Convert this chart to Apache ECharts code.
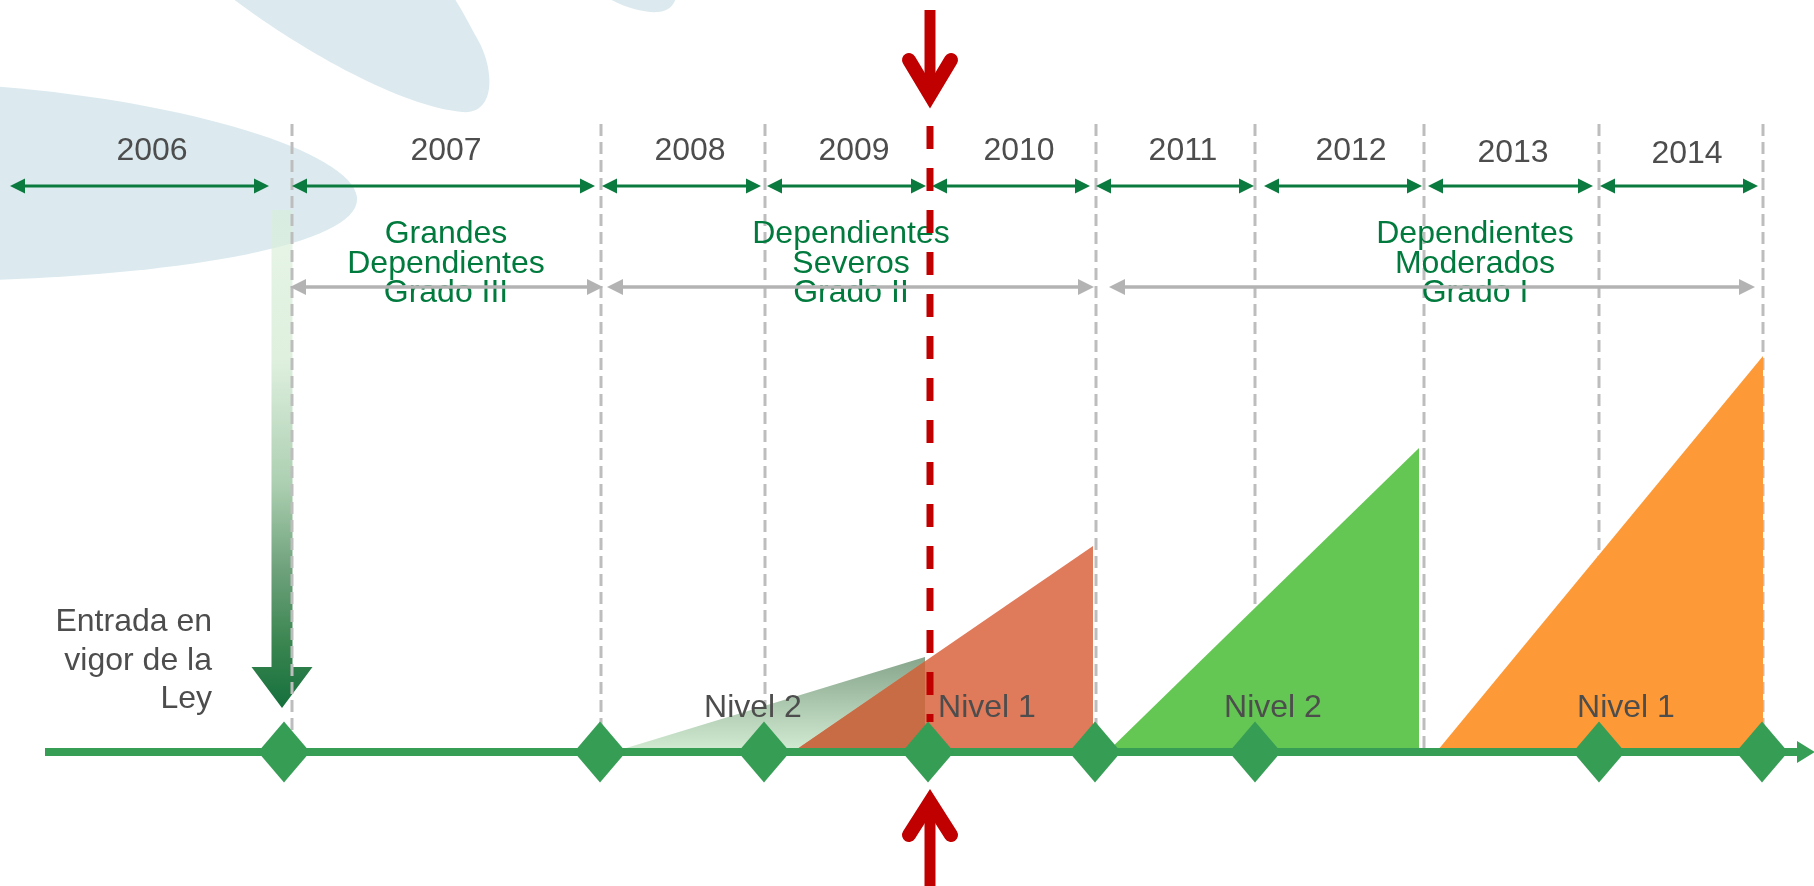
<!DOCTYPE html>
<html><head><meta charset="utf-8">
<script src="https://cdn.jsdelivr.net/npm/echarts@6/dist/echarts.min.js"></script>
<style>html,body{margin:0;padding:0;background:#fff}#main{width:1814px;height:886px}</style>
</head><body><div id="main"></div>
<script>
// ---- diagram data (x: position along the timeline, y: height above the timeline) ----
const yearLabels = ['2006','2007','2008','2009','2010','2011','2012','2013','2014'];
const yearLabelX = [152, 446, 690, 854, 1019, 1183, 1351, 1513, 1687];
const yearLabelLevel = [601, 601, 601, 601, 601, 601, 601, 599, 598];
const yearSpanFrom = [10, 292, 602, 767, 932, 1096, 1264, 1428, 1600];
const yearSpanTo = [269, 595, 761, 926, 1090, 1254, 1422, 1593, 1758];
const yearSpanLevel = 566;

const dividerX = [292, 601, 765, 1096, 1255, 1424, 1599, 1763];
const dividerTop = 628;
const milestoneX = [284, 600, 764, 928, 1095, 1255, 1599, 1762];

const gradeLabels = ['Grandes\nDependientes\nGrado III', 'Dependientes\nSeveros\nGrado II', 'Dependientes\nModerados\nGrado I'];
const gradeLabelX = [446, 851, 1475];
const gradeLabelLevel = 488;
const gradeSpanFrom = [290, 607, 1109];
const gradeSpanTo = [603, 1094, 1755];
const gradeSpanLevel = 465;

const levelLabels = ['Nivel 2', 'Nivel 1', 'Nivel 2', 'Nivel 1'];
const levelFrom = [600, 787, 1103, 1433];
const levelTo = [925, 1093, 1419, 1763];
const levelPeak = [95, 206, 304, 396];
const levelLabelX = [753, 987, 1273, 1626];
const levelLabelLevel = 44;

const entryLabel = 'Entrada en\nvigor de la\nLey';
const entryArrow = [282, 542, 44];      // x, from, to
const entryLabelPos = [212, 91];

const reformX = 930;
const reformDash = [626, 30];
const reformDownArrow = [742, 657, 692]; // shaft top, vertex, wing ends
const reformUpArrow = [-138, -50, -83];

const timeline = [45, 1815];

const backdropShapes = [
  [['M',-10,666],['C',180,652,350,602,357,555],['C',362,507,180,478,-10,472],['Z']],
  [['M',228,757],['C',300,702,400,646,462,640],['C',497,637,494,684,478,712],['C',468,730,460,746,452,757],['Z']],
  [['M',608,754],['C',625,744,645,739,658,740],['C',670,741,674,748,676,754],['Z']]
];

// ---- styles ----
const FONT = '"Liberation Sans", Arial, Helvetica, sans-serif';
const GREY_TEXT = '#4D4D4D';
const GREEN_TEXT = '#007A3D';
const levelFill = [
  {type:'linear', x:0, y:0, x2:0, y2:1, colorStops:[{offset:0,color:'#86a58b'},{offset:1,color:'#d6efd6'}]},
  '#DF7A5B', '#64C653', '#FD9A37'
];
const overlapFill = '#C86C45';

function textEl(p, text, extra) {
  return {type:'text', x:p[0], y:p[1], style:Object.assign({
    text: text, fill: GREY_TEXT, fontSize: 32, fontFamily: FONT, align:'center', verticalAlign:'middle'
  }, extra || {})};
}
function dblArrow(api, x1, x2, y, color, lw, hl, hh) {
  const a = api.coord([x1, y]), b = api.coord([x2, y]);
  return {type:'group', children:[
    {type:'line', shape:{x1:a[0]+hl*0.6, y1:a[1], x2:b[0]-hl*0.6, y2:b[1]}, style:{stroke:color, lineWidth:lw}},
    {type:'polygon', shape:{points:[[a[0],a[1]],[a[0]+hl,a[1]-hh],[a[0]+hl,a[1]+hh]]}, style:{fill:color}},
    {type:'polygon', shape:{points:[[b[0],b[1]],[b[0]-hl,b[1]-hh],[b[0]-hl,b[1]+hh]]}, style:{fill:color}}
  ]};
}

const chart = echarts.init(document.getElementById('main'), null, {renderer:'canvas'});
chart.setOption({
  animation: false,
  backgroundColor: '#ffffff',
  grid: {left:0, right:0, top:0, bottom:0},
  xAxis: {type:'value', min:0, max:1814, show:false},
  yAxis: {type:'value', min:-134, max:752, show:false},
  series: [
    { // background leaves
      type:'custom', z:1, silent:true,
      data: backdropShapes.map((s, i) => [i, 0]),
      renderItem(params, api) {
        const segs = backdropShapes[params.dataIndex];
        let d = '';
        segs.forEach(s => {
          d += s[0];
          for (let k = 1; k < s.length; k += 2) {
            const p = api.coord([s[k], s[k+1]]);
            d += ' ' + p[0].toFixed(1) + ' ' + p[1].toFixed(1);
          }
          d += ' ';
        });
        return {type:'path', shape:{pathData:d}, style:{fill:'#DCEAEF'}};
      }
    },
    { // entry-into-force arrow
      type:'custom', z:2, silent:true,
      data: [entryArrow],
      renderItem(params, api) {
        const x = api.value(0), top = api.coord([x, api.value(1)]), tip = api.coord([x, api.value(2)]);
        const cx = top[0], sw = 10.5, hw = 30.5, hl = 41;
        const pts = [[cx-sw,top[1]],[cx+sw,top[1]],[cx+sw,tip[1]-hl],[cx+hw,tip[1]-hl],[cx,tip[1]],[cx-hw,tip[1]-hl],[cx-sw,tip[1]-hl]];
        return {type:'polygon', shape:{points:pts}, style:{fill:{type:'linear', x:0, y:0, x2:0, y2:1, colorStops:[
          {offset:0, color:'rgba(214,238,214,0.55)'},{offset:0.3, color:'#dff0df'},{offset:0.55, color:'#accfb1'},
          {offset:0.72, color:'#6fa27c'},{offset:0.87, color:'#3a8550'},{offset:1, color:'#15703c'}]}}};
      }
    },
    { // grey dashed year dividers
      type:'custom', z:3, silent:true,
      data: dividerX.map(x => [x, dividerTop]),
      renderItem(params, api) {
        const a = api.coord([api.value(0), api.value(1)]), b = api.coord([api.value(0), 0]);
        return {type:'line', shape:{x1:a[0], y1:a[1], x2:b[0], y2:b[1]}, style:{stroke:'#BDBDBD', lineWidth:3, lineDash:[12,6]}};
      }
    },
    { // level triangles
      type:'custom', z:4, silent:true,
      data: levelFrom.map((s, i) => [s, levelTo[i], levelPeak[i]]),
      renderItem(params, api) {
        const i = params.dataIndex;
        const s = api.value(0), e = api.value(1), p = api.value(2), low = -4;
        const children = [{type:'polygon', shape:{points:[api.coord([s,low]), api.coord([e,p]), api.coord([e,low])]}, style:{fill:levelFill[i]}}];
        if (i > 0 && s < levelTo[i-1]) {
          const cx = levelTo[i-1];
          const hy = low + (cx - s) / (e - s) * (p - low);
          children.push({type:'polygon', shape:{points:[api.coord([s,low]), api.coord([cx,hy]), api.coord([cx,low])]}, style:{fill:overlapFill}});
        }
        return {type:'group', children};
      }
    },
    { // main timeline
      type:'custom', z:5, silent:true,
      data: [timeline],
      renderItem(params, api) {
        const a = api.coord([api.value(0), 0]), b = api.coord([api.value(1), 0]);
        return {type:'group', children:[
          {type:'line', shape:{x1:a[0], y1:a[1], x2:b[0]-16, y2:b[1]}, style:{stroke:'#379E55', lineWidth:8}},
          {type:'polygon', shape:{points:[[b[0],b[1]],[b[0]-18,b[1]-11],[b[0]-18,b[1]+11]]}, style:{fill:'#379E55'}}
        ]};
      }
    },
    { // level labels
      type:'custom', z:6, silent:true,
      data: levelLabelX.map(x => [x, levelLabelLevel]),
      renderItem(params, api) {
        return textEl(api.coord([api.value(0), api.value(1)]), levelLabels[params.dataIndex]);
      }
    },
    { // milestones
      type:'scatter', z:8, silent:true,
      symbol:'diamond', symbolSize:[52,61],
      itemStyle:{color:'#369D55', opacity:1},
      data: milestoneX.map(x => [x, 0])
    },
    { // year spans
      type:'custom', z:9, silent:true,
      data: yearSpanFrom.map((s, i) => [s, yearSpanTo[i], yearSpanLevel]),
      renderItem(params, api) {
        return dblArrow(api, api.value(0), api.value(1), api.value(2), '#0B7A3E', 3.2, 15, 7.5);
      }
    },
    { // year labels
      type:'custom', z:9, silent:true,
      data: yearLabelX.map((x, i) => [x, yearLabelLevel[i]]),
      renderItem(params, api) {
        return textEl(api.coord([api.value(0), api.value(1)]), yearLabels[params.dataIndex]);
      }
    },
    { // grade labels
      type:'custom', z:9, silent:true,
      data: gradeLabelX.map(x => [x, gradeLabelLevel]),
      renderItem(params, api) {
        return textEl(api.coord([api.value(0), api.value(1)]), gradeLabels[params.dataIndex], {fill:GREEN_TEXT, lineHeight:29.5});
      }
    },
    { // grade spans
      type:'custom', z:10, silent:true,
      data: gradeSpanFrom.map((s, i) => [s, gradeSpanTo[i], gradeSpanLevel]),
      renderItem(params, api) {
        return dblArrow(api, api.value(0), api.value(1), api.value(2), '#B3B3B3', 3.5, 16, 8);
      }
    },
    { // entry label
      type:'custom', z:9, silent:true,
      data: [entryLabelPos],
      renderItem(params, api) {
        return textEl(api.coord([api.value(0), api.value(1)]), entryLabel, {align:'right', lineHeight:38.5});
      }
    },
    { // reform marker (red)
      type:'custom', z:11, silent:true,
      data: [[reformX]],
      renderItem(params, api) {
        const x = api.value(0);
        const c = v => api.coord([x, v]);
        const red = '#C00000';
        const dTop = c(reformDash[0]), dBot = c(reformDash[1]);
        const s1 = c(reformDownArrow[0]), v1 = c(reformDownArrow[1]), w1 = c(reformDownArrow[2]);
        const s2 = c(reformUpArrow[0]), v2 = c(reformUpArrow[1]), w2 = c(reformUpArrow[2]);
        const px = dTop[0], wx = 21;
        return {type:'group', children:[
          {type:'line', shape:{x1:px, y1:dTop[1], x2:px, y2:dBot[1]}, style:{stroke:red, lineWidth:7, lineDash:[23,19]}},
          {type:'line', shape:{x1:px, y1:s1[1], x2:px, y2:v1[1]}, style:{stroke:red, lineWidth:11}},
          {type:'polyline', shape:{points:[[px-wx,w1[1]],[px,v1[1]],[px+wx,w1[1]]]}, style:{stroke:red, fill:null, lineWidth:14, lineJoin:'miter', miterLimit:10, lineCap:'round'}},
          {type:'line', shape:{x1:px, y1:s2[1], x2:px, y2:v2[1]}, style:{stroke:red, lineWidth:11}},
          {type:'polyline', shape:{points:[[px-wx,w2[1]],[px,v2[1]],[px+wx,w2[1]]]}, style:{stroke:red, fill:null, lineWidth:14, lineJoin:'miter', miterLimit:10, lineCap:'round'}}
        ]};
      }
    }
  ]
});
</script>
</body></html>
